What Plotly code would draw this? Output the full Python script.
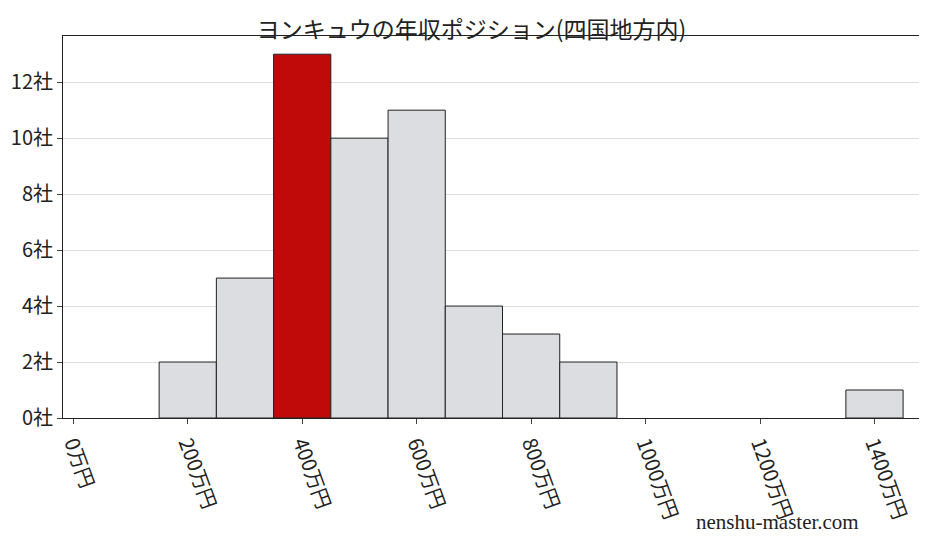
import plotly.graph_objects as go

centers = [200, 300, 400, 500, 600, 700, 800, 900, 1400]
counts = [2, 5, 13, 10, 11, 4, 3, 2, 1]
highlight = 400
tick_vals = [0, 200, 400, 600, 800, 1000, 1200, 1400]
tick_text = [f"{v}万円" for v in tick_vals]
y_ticks = [0, 2, 4, 6, 8, 10, 12]

colors = ["#c00a0a" if c == highlight else "#dcdde0" for c in centers]

fig = go.Figure(go.Bar(
    x=centers, y=counts, width=100,
    marker=dict(color=colors, line=dict(color="#222", width=1)),
))
fig.update_layout(
    width=927, height=557,
    margin=dict(l=55, r=5, t=28, b=147),
    plot_bgcolor="white", paper_bgcolor="white",
    font=dict(family="Noto Sans CJK JP", size=20, color="#222"),
    title=dict(text="ヨンキュウの年収ポジション(四国地方内)", x=0.5, y=0.975,
               xanchor="center", font=dict(size=23)),
    showlegend=False,
    xaxis=dict(range=[-18, 1497], tickvals=tick_vals, ticktext=tick_text,
               tickangle=70, showline=True, linecolor="#222", mirror=True,
               ticks="outside", ticklen=5, showgrid=False, automargin=False),
    yaxis=dict(range=[0, 13.65], tickvals=y_ticks,
               ticktext=[f"{v}社" for v in y_ticks],
               showline=True, linecolor="#222", mirror=True,
               ticks="outside", ticklen=5, gridcolor="#dddddd", automargin=False),
)
fig.add_annotation(text="nenshu-master.com", xref="paper", yref="paper",
                   x=0.92, y=-0.31, xanchor="right", showarrow=False,
                   font=dict(size=21, family="Liberation Serif"))
fig.write_html("out.html")
